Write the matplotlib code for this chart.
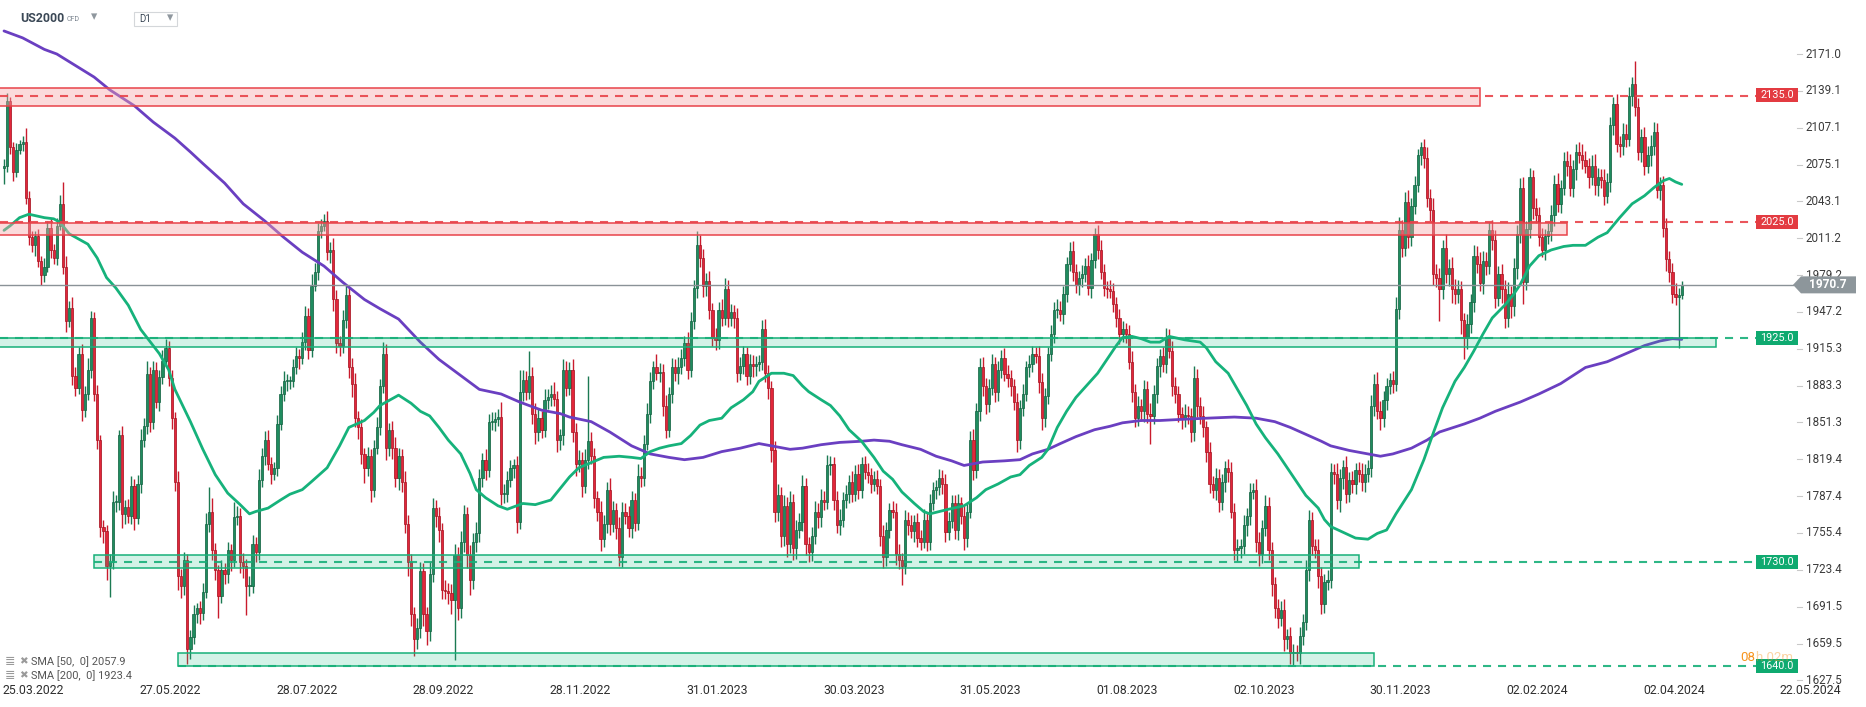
import matplotlib
matplotlib.use("Agg")
import matplotlib.pyplot as plt
import numpy as np
from matplotlib.patches import Rectangle, Polygon

plt.rcParams['lines.scale_dashes'] = False
plt.rcParams['font.family'] = ['Roboto', 'DejaVu Sans']

# ---------------- data (daily closes) ----------------
first_open = 2072
closes_mar_jun22 = [2074, 2130, 2090, 2069, 2088, 2093, 2095, 2046, 2012, 2005, 2013, 1991, 1979, 1986, 2020, 2001, 1994, 2022, 2041, 1986,
                    1939, 1951, 1892, 1881, 1911, 1862, 1876, 1897, 1942, 1876, 1836, 1761, 1757, 1727, 1730, 1782, 1782, 1840, 1772, 1778,
                    1770, 1796, 1768, 1798, 1836, 1848, 1893, 1852, 1897, 1869, 1891, 1905, 1916, 1890, 1855, 1800, 1718, 1709, 1732, 1655,
                    1665, 1685]
closes_jun_sep22 = [1690, 1686, 1704, 1763, 1774, 1741, 1723, 1701, 1723, 1720, 1741, 1732, 1769, 1770, 1730, 1727, 1709, 1709, 1746, 1739,
                    1801, 1822, 1836, 1815, 1807, 1812, 1850, 1876, 1887, 1887, 1887, 1899, 1909, 1907, 1921, 1944, 1914, 1970, 1982, 2017,
                    2022, 2026, 1999, 2001, 1958, 1920, 1918, 1940, 1962, 1899, 1885, 1855, 1847, 1824, 1812, 1822, 1793, 1829, 1847, 1883,
                    1911, 1829]
closes_sep_dec22 = [1845, 1829, 1803, 1822, 1800, 1763, 1730, 1685, 1663, 1673, 1722, 1685, 1670, 1720, 1777, 1770, 1758, 1706, 1705, 1703,
                    1697, 1736, 1690, 1748, 1772, 1736, 1715, 1748, 1755, 1803, 1819, 1810, 1852, 1852, 1854, 1856, 1789, 1789, 1801, 1812,
                    1814, 1765, 1878, 1888, 1878, 1892, 1859, 1843, 1855, 1845, 1871, 1873, 1876, 1872, 1836, 1840, 1897, 1881, 1897, 1843,
                    1815]
closes_dec22_mar23 = [1819, 1796, 1819, 1835, 1822, 1786, 1774, 1750, 1763, 1793, 1763, 1775, 1760, 1735, 1774, 1770, 1760, 1784, 1764, 1805,
                      1803, 1833, 1859, 1887, 1899, 1894, 1895, 1866, 1845, 1876, 1899, 1894, 1899, 1907, 1920, 1897, 1939, 1968, 2005, 1994,
                      1970, 1974, 1949, 1925, 1923, 1949, 1942, 1967, 1942, 1947, 1942, 1894, 1900, 1911, 1892, 1902, 1900, 1902, 1904, 1932]
closes_mar_may23 = [1894, 1881, 1827, 1774, 1788, 1753, 1779, 1746, 1782, 1742, 1758, 1765, 1796, 1746, 1739, 1753, 1774, 1769, 1784, 1782,
                    1814, 1815, 1784, 1762, 1767, 1784, 1789, 1800, 1789, 1807, 1793, 1815, 1808, 1806, 1798, 1802, 1796, 1753, 1735, 1758,
                    1775, 1774, 1737, 1732, 1727, 1767, 1762, 1757, 1765, 1751, 1748, 1767, 1748, 1781, 1793, 1795, 1803, 1798, 1756, 1766,
                    1781]
closes_jun_aug23 = [1758, 1781, 1770, 1751, 1774, 1836, 1810, 1861, 1899, 1883, 1867, 1881, 1902, 1878, 1897, 1907, 1893, 1890, 1883, 1869,
                    1836, 1864, 1876, 1899, 1902, 1911, 1909, 1886, 1855, 1874, 1911, 1928, 1949, 1949, 1945, 1963, 1989, 2000, 1982, 1971,
                    1977, 1980, 1987, 1968, 1992, 2015, 2001, 1982, 1968, 1967, 1965, 1954, 1942, 1928, 1932, 1928, 1904, 1878, 1855, 1866,
                    1861]
closes_aug_nov23 = [1880, 1859, 1857, 1876, 1900, 1909, 1902, 1925, 1913, 1883, 1876, 1859, 1855, 1858, 1857, 1843, 1890, 1866, 1857, 1847,
                    1826, 1798, 1793, 1803, 1782, 1800, 1812, 1808, 1774, 1741, 1742, 1744, 1762, 1770, 1791, 1793, 1748, 1737, 1760, 1779,
                    1741, 1711, 1690, 1682, 1689, 1663, 1666, 1651, 1652, 1651, 1666, 1678, 1723, 1767, 1744, 1741, 1718, 1694, 1713, 1715]
closes_nov23_feb24 = [1808, 1807, 1784, 1803, 1813, 1789, 1801, 1798, 1810, 1807, 1800, 1807, 1812, 1866, 1885, 1861, 1855, 1871, 1883, 1888,
                      1885, 1950, 2018, 2003, 2043, 2012, 2039, 2057, 2083, 2090, 2081, 2046, 2036, 1980, 1977, 1967, 2003, 1980, 1985, 1967,
                      1963, 1967, 1940, 1925, 1937, 1956, 1996, 1989, 1972, 1991, 1987, 2018, 2010, 1959, 1980, 1967, 1942, 1963, 1952, 1985,
                      2015]
closes_feb_apr24 = [2055, 1973, 2019, 2064, 2037, 2031, 2012, 2001, 2013, 2017, 2031, 2058, 2041, 2055, 2078, 2074, 2055, 2071, 2086, 2083,
                    2079, 2074, 2064, 2074, 2057, 2064, 2062, 2048, 2060, 2109, 2128, 2093, 2091, 2102, 2097, 2135, 2145, 2125, 2086, 2099,
                    2074, 2083, 2091, 2103, 2053, 2057, 2020, 1993, 1982, 1963, 1960, 1962, 1970.7]

wick_up = [6,7,4,5,6,3,5,12,6,5,4,6,5,8,6,9,5,7,8,19,10,6,9,7,6,8,7,10,6,5,8,4,6,5,7,10,6,5,8,6,7,9,6,8,10,7,12,6,8,7,6,9,8,6,7,5,9,6,7,5,6,8,
           5,6,8,10,21,12,6,5,9,6,7,5,13,9,7,8,6,9,8,6,10,7,8,9,6,5,8,7,9,6,5,7,8,6,9,8,7,10,8,7,6,6,9,7,10,8,6,9,8,7,8,9,6,7,5,8,6,7,9,6,10,8,
           6,8,10,7,6,9,8,7,6,9,8,7,6,10,9,7,8,6,9,7,8,10,7,9,8,6,9,7,10,8,6,9,7,8,6,7,13,9,8,7,6,8,19,9,8,21,7,9,8,6,9,7,8,10,7,6,9,8,7,9,8,
           8,7,9,57,8,7,6,9,8,7,10,8,6,9,8,7,9,8,6,10,8,7,9,8,6,12,8,7,9,6,8,7,9,8,6,10,8,7,12,9,8,7,9,6,8,7,9,10,8,7,6,9,8,7,6,9,8,7,6,8,
           9,7,6,8,10,7,9,8,10,7,9,8,10,7,6,8,9,7,10,8,9,7,6,8,9,7,8,6,9,7,8,6,7,8,6,7,8,6,9,7,6,8,7,9,6,8,7,9,6,8,7,9,6,8,7,6,8,7,9,8,7,
           7,8,6,9,7,8,10,7,8,9,7,8,9,6,8,7,9,8,7,6,8,7,9,6,8,7,6,9,8,7,6,8,7,9,8,7,6,8,9,7,6,8,7,10,6,5,8,9,7,6,8,7,6,8,7,6,8,9,7,8,6,
           8,7,9,8,7,6,8,8,7,9,8,7,6,9,8,7,10,8,7,9,6,8,7,9,8,7,6,8,9,7,8,6,9,7,8,6,9,8,7,9,8,7,6,8,7,9,6,8,7,6,8,7,9,8,7,6,9,8,7,8,
           8,7,9,8,6,9,7,8,6,7,9,8,7,9,8,10,9,8,7,6,8,10,12,9,8,10,7,8,6,5,7,9,8,10,9,8,7,12,8,10,9,8,7,6,8,7,9,8,10,9,8,7,9,8,7,9,8,10,7,9,8,
           8,9,7,8,6,9,7,8,6,7,9,8,10,7,8,9,10,8,7,9,10,8,7,9,10,8,7,9,8,7,6,8,7,9,8,7,6,20,8,7,9,8,10,9,8,7,8,9,7,8,9,6,3]
wick_dn = [14,5,6,8,5,4,6,5,7,6,9,5,8,6,4,7,5,6,4,6,9,5,8,7,5,9,6,5,7,6,8,9,10,12,27,6,8,7,12,9,6,7,10,5,8,6,7,9,6,5,8,6,5,7,9,8,12,10,7,13,9,6,
           8,10,6,5,7,9,8,19,6,9,8,10,6,7,9,11,25,8,6,9,7,6,8,5,9,6,7,5,6,8,7,5,6,9,5,7,8,6,5,7,6,5,7,9,10,8,9,6,7,9,12,8,10,9,13,7,11,6,5,7,6,10,
           7,9,8,10,9,8,12,10,14,8,9,10,12,8,7,9,10,8,7,9,12,52,10,8,9,11,13,8,9,7,8,9,6,7,8,6,9,8,7,6,9,10,6,8,7,6,9,10,8,7,6,8,7,6,10,9,8,7,6,9,10,
           7,9,6,8,7,9,8,10,7,8,9,7,10,8,9,7,8,9,7,6,8,7,6,8,7,6,8,9,7,6,8,7,9,6,7,8,6,7,9,8,10,9,8,7,9,8,7,6,8,7,9,8,6,7,8,7,9,8,6,7,
           8,9,10,9,8,10,9,11,8,10,9,7,8,10,9,8,7,9,8,7,6,8,9,7,8,6,7,8,7,6,8,7,6,7,8,6,7,9,10,8,7,6,9,8,17,7,8,6,9,8,7,6,8,7,6,8,7,9,8,7,6,
           8,9,7,10,8,6,9,7,8,9,8,7,6,9,8,7,6,8,9,7,10,8,7,6,8,7,6,9,10,8,7,6,8,7,6,8,7,6,8,7,9,8,7,6,9,7,8,6,7,8,6,7,8,9,7,8,6,9,8,7,8,
           9,8,24,7,8,9,7,8,6,9,8,7,9,8,7,9,8,10,7,8,9,8,7,9,8,7,9,8,6,9,10,8,7,9,8,6,9,10,8,7,9,10,8,9,7,10,8,9,10,7,9,8,7,9,8,7,10,9,8,7,
           7,9,8,10,9,8,7,8,9,7,8,9,7,8,9,7,10,8,9,7,8,6,9,8,7,9,8,7,6,8,9,8,10,9,8,28,9,8,10,12,9,8,12,19,10,8,9,8,7,9,8,7,9,8,7,12,9,8,10,8,9,
           8,19,7,8,9,7,8,6,9,7,8,9,7,8,6,9,7,8,9,7,8,6,9,7,8,9,7,8,6,9,8,7,9,8,7,6,9,8,7,9,8,6,9,8,7,9,8,10,9,8,7,44,4]

sma50_bars = [0,2,5,8,13,16,18,21,27,30,33,36,40,44,46,50,53,55,60,64,68,72,76,79,81,85,89,92,96,99,104,108,111,116,119,121,
              127,131,134,137,140,143,147,150,152,155,159,162,167,171,176,179,182,185,193,198,202,205,208,211,214,218,221,224,227,231,234,238,241,243,
              247,251,254,257,259,263,266,269,272,276,280,283,286,289,293,296,298,301,304,309,313,316,320,324,327,330,334,336,339,342,345,349,352,355,358,360,363,366,
              369,372,375,380,385,387,390,394,397,400,403,406,410,413,416,419,423,425,427,431,435,439,442,445,448,453,457,460,463,467,470,473,476,479,483,486,488,
              491,494,498,502,505,509,513,516,520,524,528,531,534,536,538,540]
sma50_vals = [2018,2022,2029,2032,2029,2028,2025,2015,2006,1994,1977,1968,1953,1932,1925,1911,1897,1880,1852,1828,1806,1790,1780,1772,1774,1777,1784,1789,1793,1800,1812,1831,1847,1853,1860,1866,
              1875,1868,1861,1857,1847,1836,1824,1807,1793,1786,1779,1776,1781,1780,1784,1794,1804,1812,1821,1822,1821,1820,1826,1829,1831,1833,1840,1849,1853,1855,1864,1871,1878,1887,
              1894,1894,1892,1883,1878,1871,1866,1857,1845,1835,1821,1809,1802,1791,1781,1774,1772,1774,1776,1779,1786,1793,1798,1804,1806,1814,1821,1828,1847,1861,1873,1885,1894,1906,1918,1925,1926,1924,
              1921,1921,1926,1923,1921,1916,1904,1894,1880,1866,1850,1838,1824,1812,1800,1788,1777,1767,1761,1756,1751,1750,1755,1758,1772,1793,1819,1842,1864,1887,1899,1913,1928,1942,1953,1963,1971,
              1987,1996,2001,2004,2005,2005,2012,2016,2029,2041,2048,2055,2061,2063,2060,2057.9]
sma200_bars = [0,6,13,17,23,29,34,42,48,55,60,64,71,77,84,90,96,103,109,116,121,127,134,140,147,153,160,166,173,179,182,
               189,195,202,208,214,219,225,231,237,243,249,253,257,263,269,276,280,285,289,295,300,305,
               309,315,322,327,331,336,340,345,351,356,360,366,372,379,387,396,403,409,414,419,424,427,
               433,439,443,447,453,458,462,470,475,480,488,494,501,509,516,522,528,533,537,540]
sma200_vals = [2191,2185,2175,2171,2161,2151,2140,2126,2112,2098,2086,2076,2059,2041,2026,2012,1999,1987,1973,1958,1950,1941,1921,1906,1892,1880,1876,1869,1862,1859,1856,
               1852,1843,1831,1824,1821,1819,1821,1826,1829,1833,1830,1828,1829,1832,1834,1835,1836,1835,1832,1828,1822,1818,
               1814,1817,1818,1819,1824,1828,1833,1839,1845,1848,1851,1853,1853,1854,1855,1856,1855,1852,1847,1841,1835,1831,
               1827,1824,1822,1824,1829,1836,1843,1850,1855,1861,1869,1876,1885,1899,1904,1911,1918,1922,1924,1923.4]

price_ticks = [2171.0, 2139.1, 2107.1, 2075.1, 2043.1, 2011.2, 1979.2, 1947.2, 1915.3, 1883.3, 1851.3, 1819.4,
               1787.4, 1755.4, 1723.4, 1691.5, 1659.5, 1627.5]
date_labels = ["25.03.2022", "27.05.2022", "28.07.2022", "28.09.2022", "28.11.2022", "31.01.2023", "30.03.2023",
               "31.05.2023", "01.08.2023", "02.10.2023", "30.11.2023", "02.02.2024", "02.04.2024", "22.05.2024"]
bars_per_label = 44

levels = [2135.0, 2025.0, 1925.0, 1730.0, 1640.0]
level_kind = ["res", "res", "sup", "sup", "sup"]
zone_top = [2141.3, 2024.5, 1924.5, 1736.4, 1651.6]
zone_bot = [2125.7, 2014.2, 1917.0, 1725.3, 1640.2]
zone_start_bar = [-2, -2, -2, 29, 56]
zone_end_bar = [475, 503, 551, 436, 441]
last_price = 1970.7
sma50_last, sma200_last = 2057.9, 1923.4

# ---------------- layout helpers (pixel geometry of the chart) ----------------
W, H = 1866, 707
X0, DX = 4.0, 3.107           # pixel x of bar 0, pixels per bar
Y_REF, P_REF, PPU = 95.5, 2135.0, 1.1525   # pixel y of price P_REF, pixels per price unit

def px2x(px):
    return (px - X0) / DX

def py2y(py):
    return P_REF - (py - Y_REF) / PPU

def hpx(n):
    return n / PPU

fig = plt.figure(figsize=(W / 100, H / 100), dpi=100)
ax = fig.add_axes([0, 0, 1, 1])
ax.set_xlim(px2x(0), px2x(W))
ax.set_ylim(py2y(H), py2y(0))
ax.set_axis_off()

closes = np.array(closes_mar_jun22 + closes_jun_sep22 + closes_sep_dec22 + closes_dec22_mar23 + closes_mar_may23 +
                  closes_jun_aug23 + closes_aug_nov23 + closes_nov23_feb24 + closes_feb_apr24, dtype=float)
n = len(closes)
opens = np.concatenate([[first_open], closes[:-1]])
highs = np.maximum(opens, closes) + np.array(wick_up[:n])
lows = np.minimum(opens, closes) - np.array(wick_dn[:n])
x = np.arange(n)
up = closes >= opens
dn = ~up

G_BODY, G_EDGE, G_WICK = '#1f8c5f', '#11603f', '#1b7a52'
R_BODY, R_EDGE, R_WICK = '#e2263a', '#a3121f', '#c91b2d'

ax.vlines(x[up], lows[up], highs[up], color=G_WICK, lw=1.0, zorder=2)
ax.vlines(x[dn], lows[dn], highs[dn], color=R_WICK, lw=1.0, zorder=2)
bh = np.maximum(np.abs(closes - opens), 0.9)
bb = np.minimum(opens, closes)
ax.bar(x[up], bh[up], bottom=bb[up], width=0.72, color=G_BODY, edgecolor=G_EDGE, linewidth=0.5, zorder=3)
ax.bar(x[dn], bh[dn], bottom=bb[dn], width=0.72, color=R_BODY, edgecolor=R_EDGE, linewidth=0.5, zorder=3)

# moving averages
ax.plot(sma200_bars, sma200_vals, color='#6a3fc1', lw=2.0, zorder=4, solid_capstyle='round')
ax.plot(sma50_bars, sma50_vals, color='#16b27b', lw=2.0, zorder=4, solid_capstyle='round')

# zones and dashed levels
RED, GREEN = '#e8434a', '#17b079'
for lvl, kind, t, b, s, e in zip(levels, level_kind, zone_top, zone_bot, zone_start_bar, zone_end_bar):
    col = RED if kind == "res" else GREEN
    face = '#f7a7ab' if kind == "res" else '#27c08a'
    alpha = 0.42 if kind == "res" else 0.2
    ax.add_patch(Rectangle((s, b), e - s, t - b, facecolor=face, alpha=alpha, edgecolor='none', zorder=5))
    ax.add_patch(Rectangle((s, b), e - s, t - b, facecolor='none', edgecolor=col, lw=1.1, zorder=5))
    ln, = ax.plot([max(s, px2x(0)), px2x(1756)], [lvl, lvl], color=col, lw=1.5, zorder=6, alpha=0.9)
    ln.set_dashes([5.8, 5.0])
    # price tag
    ax.add_patch(Rectangle((px2x(1756), lvl - hpx(7)), px2x(1798) - px2x(1756), hpx(14),
                           facecolor=('#e33b41' if kind == "res" else '#0faa70'), edgecolor='none', zorder=8))
    ax.text(px2x(1777), lvl, f"{lvl:.1f}", color='white', fontsize=7.8, ha='center', va='center', zorder=9)

# last price line and tag
ax.plot([px2x(0), px2x(1793)], [last_price, last_price], color='#8a9297', lw=1.0, zorder=6)

# right price axis labels
for v in price_ticks:
    ax.plot([px2x(1797), px2x(1802)], [v, v], color='#c9c9c9', lw=0.8, zorder=6)
    ax.text(px2x(1806), v, f"{v:.1f}", fontsize=8.4, color='#3a3a3a', ha='left', va='center', zorder=7)

tag = Polygon([(px2x(1793), last_price), (px2x(1801), last_price + hpx(8.5)), (px2x(1856), last_price + hpx(8.5)),
               (px2x(1856), last_price - hpx(8.5)), (px2x(1801), last_price - hpx(8.5))],
              closed=True, facecolor='#8d969b', edgecolor='none', zorder=9)
ax.add_patch(tag)
ax.text(px2x(1828), last_price, f"{last_price:.1f}", color='white', fontsize=8.6, fontweight='bold',
        ha='center', va='center', zorder=10)

# countdown
ax.text(px2x(1740), py2y(657), "08", color='#f7941d', fontsize=9.5, ha='left', va='center', zorder=10)
ax.text(px2x(1756), py2y(657), "h 02m", color='#f7941d', alpha=0.4, fontsize=9.5, ha='left', va='center', zorder=10)

# date labels
for k, lab in enumerate(date_labels):
    ax.text(k * bars_per_label - 0.4, py2y(690), lab, fontsize=8.8, color='#2e2e2e', ha='left', va='center', zorder=7)

# header
ax.text(px2x(20.5), py2y(18.5), "US2000", fontsize=8.9, fontweight='bold', color='#3b4856', ha='left', va='center')
ax.text(px2x(67), py2y(19.5), "CFD", fontsize=5.0, color='#7b8590', ha='left', va='center')
ax.text(px2x(94), py2y(16.5), "▾", fontsize=9, color='#8f979e', ha='center', va='center', family=['DejaVu Sans'])
ax.add_patch(Rectangle((px2x(134), py2y(26)), px2x(177) - px2x(134), hpx(14.3), facecolor='white',
                       edgecolor='#d4d7da', lw=0.8, zorder=7))
ax.text(px2x(139), py2y(19), "D1", fontsize=7.0, color='#3b4856', ha='left', va='center', zorder=8)
ax.text(px2x(170), py2y(18), "▾", fontsize=9, color='#8f979e', ha='center', va='center', zorder=8, family=['DejaVu Sans'])

# indicator legend
for yy, txt in [(661.5, f"SMA [50,  0] {sma50_last:.1f}"), (675.5, f"SMA [200,  0] {sma200_last:.1f}")]:
    ax.text(px2x(5), py2y(yy), "≣", fontsize=9, color='#9a9a9a', ha='left', va='center', family=['DejaVu Sans'], zorder=9)
    ax.text(px2x(19), py2y(yy), "✖", fontsize=7.5, color='#9a9a9a', ha='left', va='center', family=['DejaVu Sans'], zorder=9)
    ax.text(px2x(31), py2y(yy), txt, fontsize=7.9, color='#555555', ha='left', va='center', zorder=9)

fig.savefig("out.png", dpi=100, facecolor='white')
